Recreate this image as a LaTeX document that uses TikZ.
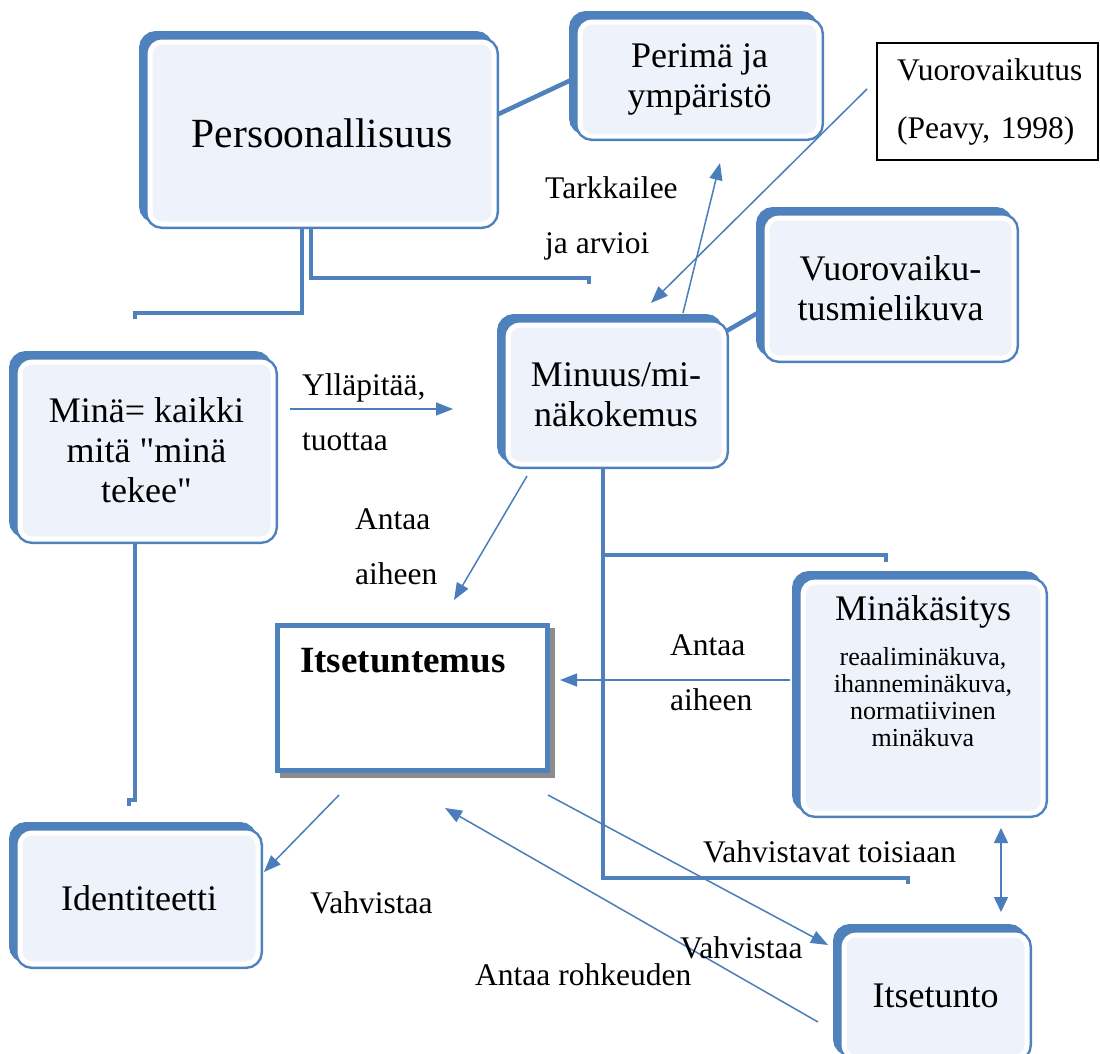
\documentclass[tikz,border=0pt]{standalone}
\usepackage{fontspec}
\setmainfont{Liberation Serif}[Ligatures=TeXOff]
\usetikzlibrary{arrows.meta,backgrounds}
\definecolor{frameblue}{RGB}{79,129,189}
\definecolor{panelfill}{RGB}{238,242,250}
\definecolor{wireblue}{RGB}{74,126,187}
\definecolor{shadowgray}{RGB}{140,140,140}
\tikzset{
  panelbox/.style={rounded corners=12pt, fill=panelfill, draw=white, line width=5pt,
    inner sep=0pt, align=center, text=black,
    font=\fontsize{36}{40}\selectfont,
    preaction={fill=frameblue, draw=frameblue, line width=10pt,
      transform canvas={shift={(-6pt,6pt)}}},
    preaction={draw=frameblue, line width=10pt}},
  plainbox/.style={draw=black, line width=1.2pt, fill=white, inner sep=0pt,
    align=left, font=\fontsize{31.5}{58}\selectfont},
  trunk/.style={draw=frameblue, line width=4.5pt},
  wire/.style={draw=wireblue, line width=1.5pt, -{Triangle[length=17pt,width=13pt]}},
  twowire/.style={draw=wireblue, line width=1.5pt,
    {Triangle[length=15pt,width=14pt]}-{Triangle[length=15pt,width=14pt]}},
  lbl/.style={font=\fontsize{31.5}{55}\selectfont, inner sep=0pt, anchor=north west, align=left}
}
\begin{document}
\begin{tikzpicture}[x=1pt,y=-1pt]
\useasboundingbox (0,0) rectangle (1100,1053);

% boxes
\node[panelbox, minimum width=344pt, minimum height=182pt,
  font=\fontsize{41.5}{46}\selectfont] (pers) at (322,133) {Persoonallisuus};
\node[panelbox, minimum width=239pt, minimum height=114pt] (perim) at (699.5,79) {Perimä ja\\ympäristö};
\node[plainbox, minimum width=221pt, minimum height=117pt, text width=181pt] (vuoro) at (987.5,101.5)
  {Vuorovaikutus\\(Peavy, 1998)};
\node[panelbox, minimum width=247pt, minimum height=140pt] (vmk) at (890.5,288) {Vuorovaiku-\\tusmielikuva};
\node[panelbox, minimum width=216pt, minimum height=139pt] (minuus) at (616,394.5) {Minuus/mi-\\näkokemus};
\node[panelbox, minimum width=253pt, minimum height=177pt] (mina) at (146.5,450.5) {Minä= kaikki\\mitä "minä\\tekee"};
\node[draw=frameblue, line width=5pt, fill=white, minimum width=270pt, minimum height=145pt, inner sep=0pt,
  preaction={fill=shadowgray, draw=shadowgray, line width=5pt, transform canvas={shift={(5pt,-5pt)}}},
  label={[anchor=base west, inner sep=0pt, font=\fontsize{37}{40}\selectfont\bfseries,
    xshift=25pt, yshift=-49pt]north west:Itsetuntemus}] (itse) at (412.5,698) {};
\node[panelbox, minimum width=240pt, minimum height=231pt,
  label={[anchor=north, inner sep=0pt, font=\fontsize{36}{40}\selectfont, yshift=-16pt]north:Minäkäsitys},
  label={[anchor=north, inner sep=0pt, align=center, font=\fontsize{26}{27}\selectfont,
    yshift=-67.5pt]north:reaaliminäkuva,\\ihanneminäkuva,\\normatiivinen\\minäkuva}] (minak) at (923,697.5) {};
\node[panelbox, minimum width=238pt, minimum height=131pt] (iden) at (139,898.5) {Identiteetti};
\node[panelbox, minimum width=183pt, minimum height=122pt] (tunto) at (935.5,996) {Itsetunto};

% free ends of the connectors
\coordinate (t1) at (135,319);
\coordinate (t2) at (589,284);
\coordinate (t3) at (886,562);
\coordinate (t4) at (908,884);
\coordinate (t5) at (129,806);
\coordinate (p1) at (683,313);  \coordinate (p2) at (720,163);
\coordinate (q1) at (867,89);   \coordinate (q2) at (651,303);
\coordinate (r1) at (290,409);  \coordinate (r2) at (453,409);
\coordinate (s1) at (527,476);  \coordinate (s2) at (454,600);
\coordinate (u1) at (790,680);  \coordinate (u2) at (560,680);
\coordinate (v1) at (339,795);  \coordinate (v2) at (264,872);
\coordinate (w1) at (548,795);  \coordinate (w2) at (828,945);
\coordinate (z1) at (818,1022); \coordinate (z2) at (445,808);
\coordinate (d1) at (1001,828); \coordinate (d2) at (1001,912);

% tree connectors behind the boxes
\begin{scope}[on background layer]
\fill[white] (0,0) rectangle (1100,1053);
\draw[trunk] (302,0 |- pers.south) -- (302,313) -- (135,313) -- (t1);
\draw[trunk] (311,0 |- pers.south) -- (311,278) -- (589,278) -- (t2);
\draw[trunk] (pers.east |- 0,115) -- (perim.west |- 0,77);
\draw[trunk] (minuus.east |- 0,331) -- (vmk.west |- 0,309);
\draw[trunk] (603,0 |- minuus.south) -- (603,878) -- (908,878) -- (t4);
\draw[trunk] (603,555) -- (886,555) -- (t3);
\draw[trunk] (135,0 |- mina.south) -- (135,800) -- (129,800) -- (t5);
\end{scope}

% arrows
\draw[wire] (p1) -- (p2);
\draw[wire] (q1) -- (q2);
\draw[wire] (r1) -- (r2);
\draw[wire] (s1) -- (s2);
\draw[wire] (u1) -- (u2);
\draw[wire] (v1) -- (v2);
\draw[wire] (w1) -- (w2);
\draw[wire] (z1) -- (z2);
\draw[twowire] (d1) -- (d2);

% arrow labels
\node[lbl] (ltark) at (545,176.5) {Tarkkailee\\ja arvioi};
\node[lbl] (lyll) at (302,373.5) {Ylläpitää,\\tuottaa};
\node[lbl] (lant1) at (355,508.5) {Antaa\\aiheen};
\node[lbl] (lant2) at (670,634.5) {Antaa\\aiheen};
\node[lbl] (lvaht) at (703,840.5) {Vahvistavat toisiaan};
\node[lbl] (lvah1) at (310,891.5) {Vahvistaa};
\node[lbl] (lvah2) at (680,936.5) {Vahvistaa};
\node[lbl] (lrohk) at (475,963.5) {Antaa rohkeuden};
\end{tikzpicture}
\end{document}
